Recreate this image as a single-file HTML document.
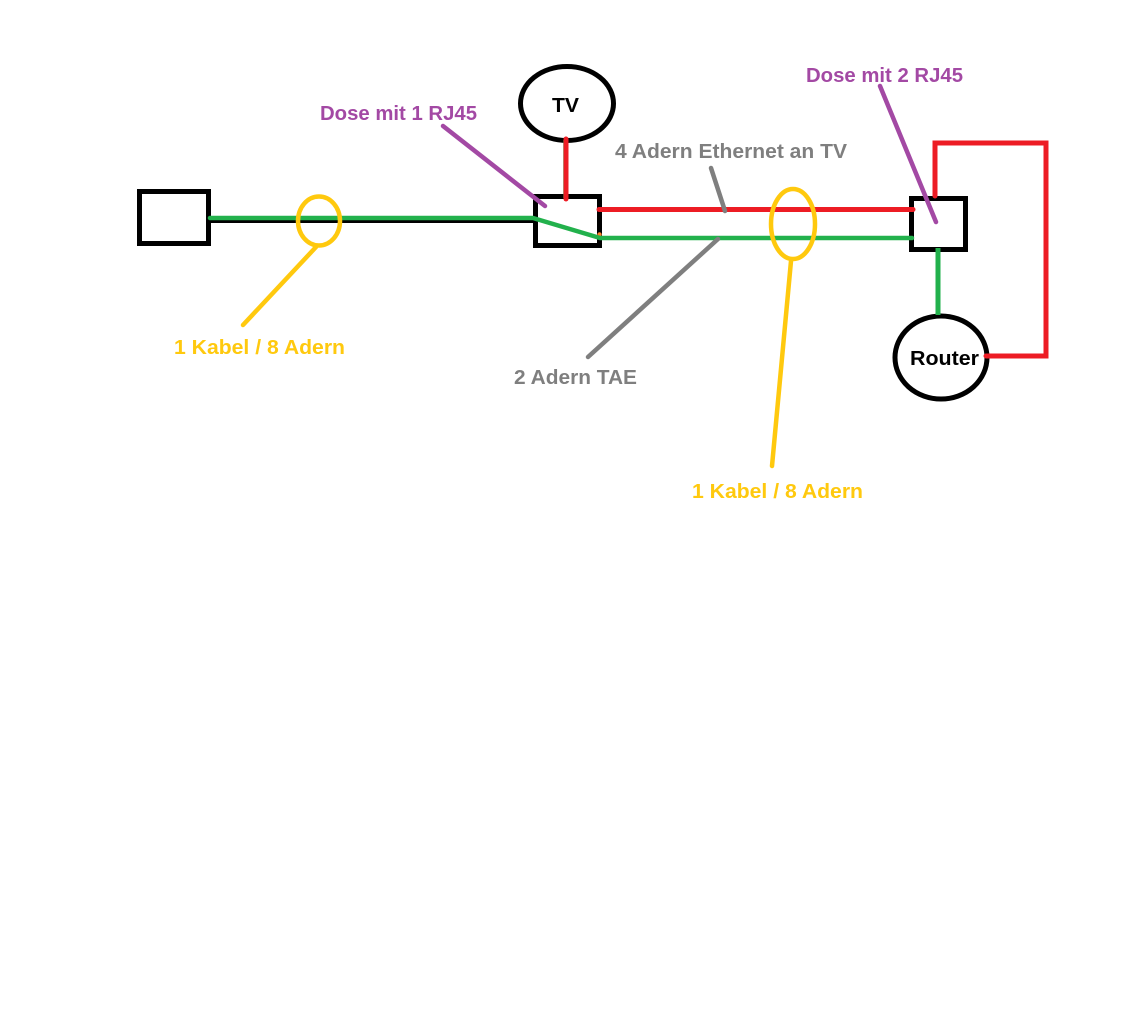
<!DOCTYPE html>
<html><head><meta charset="utf-8"><style>
html,body{margin:0;padding:0;background:#fff}
svg{display:block}
text{font-family:"Liberation Sans",sans-serif;font-weight:bold;font-size:20.5px}
</style></head><body>
<svg width="1136" height="1025" viewBox="0 0 1136 1025" xmlns="http://www.w3.org/2000/svg">
<rect width="1136" height="1025" fill="#fff"/>
<g fill="none" stroke="#000" stroke-width="5">
<rect x="139.5" y="191.5" width="69" height="52"/>
<rect x="535.5" y="196.5" width="64" height="49"/>
<rect x="911.5" y="198.5" width="54" height="51"/>
<ellipse cx="567" cy="103.5" rx="46.5" ry="37"/>
<ellipse cx="941" cy="357.5" rx="46" ry="41.5"/>
</g>
<line x1="209" y1="221" x2="535" y2="221" stroke="#000" stroke-width="4"/>
<line x1="564" y1="140" x2="564" y2="198" stroke="#22b14c" stroke-width="1.5"/>
<circle cx="599.5" cy="234.5" r="2.2" fill="#ff7f27"/>
<g fill="none" stroke="#22b14c" stroke-width="4.5" stroke-linecap="round" stroke-linejoin="round">
<polyline points="210,218 533,218 600,238 912,238"/>
</g>
<line x1="938" y1="248" x2="938" y2="315" stroke="#22b14c" stroke-width="5"/>
<g fill="none" stroke="#ed1c24" stroke-width="5" stroke-linecap="round" stroke-linejoin="miter">
<line x1="566" y1="139" x2="566" y2="199"/>
<line x1="599" y1="209.5" x2="913" y2="209.5"/>
<polyline points="935,196 935,143 1046,143 1046,356 986,356"/>
</g>
<g fill="none" stroke="#ffc90e" stroke-width="4.5" stroke-linecap="round">
<ellipse cx="319" cy="221" rx="21" ry="24.5"/>
<ellipse cx="793" cy="224" rx="22" ry="35"/>
<line x1="316" y1="247" x2="243" y2="325"/>
<line x1="791" y1="261" x2="772" y2="466"/>
</g>
<g fill="none" stroke="#a349a4" stroke-width="4.5" stroke-linecap="round">
<line x1="443" y1="126" x2="545" y2="206"/>
<line x1="880" y1="86" x2="936" y2="222"/>
</g>
<g fill="none" stroke="#7f7f7f" stroke-width="4.5" stroke-linecap="round">
<line x1="711" y1="168" x2="725" y2="211"/>
<line x1="718" y1="239" x2="588" y2="357"/>
</g>
<text x="552" y="112" textLength="27" lengthAdjust="spacingAndGlyphs" fill="#000">TV</text>
<text x="910" y="365" textLength="69" lengthAdjust="spacingAndGlyphs" fill="#000">Router</text>
<g fill="#a349a4">
<text x="320" y="120" textLength="157" lengthAdjust="spacingAndGlyphs">Dose mit 1 RJ45</text>
<text x="806" y="82" textLength="157" lengthAdjust="spacingAndGlyphs">Dose mit 2 RJ45</text>
</g>
<g fill="#7f7f7f">
<text x="615" y="158" textLength="232" lengthAdjust="spacingAndGlyphs">4 Adern Ethernet an TV</text>
<text x="514" y="384" textLength="123" lengthAdjust="spacingAndGlyphs">2 Adern TAE</text>
</g>
<g fill="#ffc90e">
<text x="174" y="354" textLength="171" lengthAdjust="spacingAndGlyphs">1 Kabel / 8 Adern</text>
<text x="692" y="498" textLength="171" lengthAdjust="spacingAndGlyphs">1 Kabel / 8 Adern</text>
</g>
</svg>
</body></html>
